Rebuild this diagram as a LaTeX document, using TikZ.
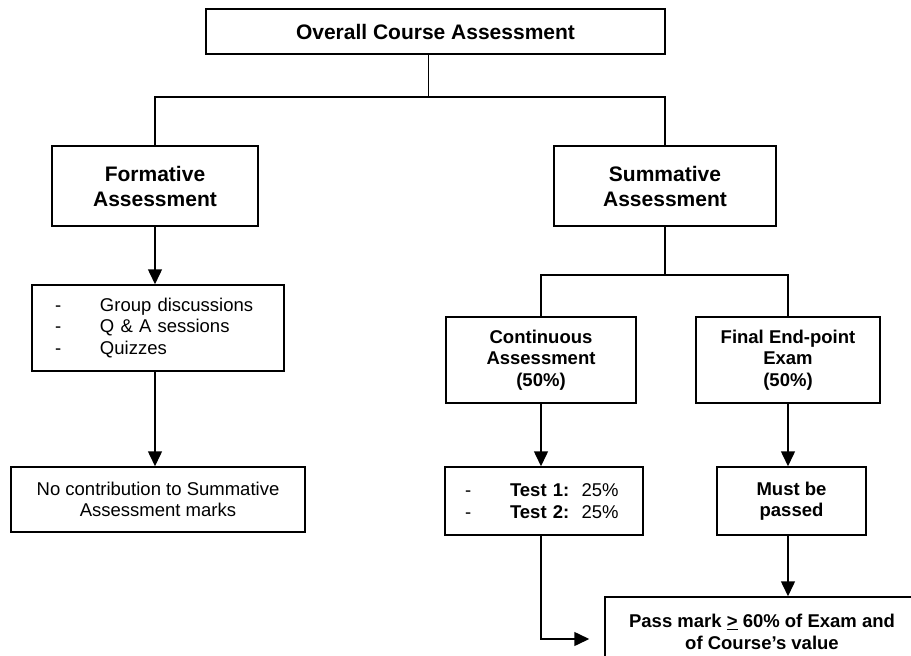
\documentclass[tikz,border=0pt]{standalone}
\usepackage{fontspec}
\setmainfont{Liberation Sans}
\usetikzlibrary{arrows.meta}
\usetikzlibrary{calc}

\tikzset{
  box/.style={draw, line width=1.5pt, align=center, inner sep=0pt},
  headbox/.style={box, font=\bfseries\fontsize{21}{25}\selectfont},
  smallbox/.style={box, font=\fontsize{18.5}{21.5}\selectfont},
  arr/.style={-{Triangle[width=14pt,length=15pt]}},
}

\begin{document}
\begin{tikzpicture}[x=1pt,y=-1pt,line width=1.5pt]
        \useasboundingbox (0,0) rectangle (911,656);
        \clip (0,0) rectangle (911,656);

        \node[headbox, minimum width=459pt, minimum height=45pt] (top) at (435.5,31.5) {Overall Course Assessment};
        \node[headbox, minimum width=206pt, minimum height=80pt] (form) at (155,186) {Formative\\Assessment};
        \node[headbox, minimum width=222pt, minimum height=80pt] (summ) at (665,186) {Summative\\Assessment};

        \node[smallbox, align=left, text width=206pt, inner xsep=23pt, minimum height=86pt] (list) at (158,328)
          {\makebox[45pt][l]{-}Group discussions\\\makebox[45pt][l]{-}Q \& A sessions\\\makebox[45pt][l]{-}Quizzes};
        \node[smallbox, minimum width=294pt, minimum height=65pt] (none) at (158,499.5) {No contribution to Summative\\Assessment marks};

        \node[smallbox, font=\bfseries\fontsize{18.5}{21.5}\selectfont, minimum width=190pt, minimum height=86pt] (cont) at (541,360) {Continuous\\Assessment\\(50\%)};
        \node[smallbox, font=\bfseries\fontsize{18.5}{21.5}\selectfont, minimum width=184pt, minimum height=86pt] (final) at (788,360) {Final End-point\\Exam\\(50\%)};
        \node[smallbox, align=left, text width=158pt, inner xsep=20pt, minimum height=68pt] (tests) at (544,501)
          {\makebox[45pt][l]{-}\textbf{Test 1:}\ \ 25\%\\\makebox[45pt][l]{-}\textbf{Test 2:}\ \ 25\%};
        \node[smallbox, font=\bfseries\fontsize{18.5}{21.5}\selectfont, minimum width=149pt, minimum height=68pt] (must) at (791.5,501) {Must be\\passed};
        \node[smallbox, font=\bfseries\fontsize{18.5}{21.5}\selectfont, minimum width=314pt, minimum height=70pt] (pass) at (762,632)
          {Pass mark \underline{>} 60\% of Exam and\\of Course’s value};

        \draw ([xshift=-7pt]top.south) -- ++(0,42) coordinate (j1) -| (form.north);
        \draw (j1) -| (summ.north);
        \draw (summ.south) -- ++(0,48) coordinate (j2) -| (cont.north);
        \draw (j2) -| (final.north);

        \path[arr] (form.south) edge (form.south |- list.north);
        \path[arr] (list.south -| form.south) edge (form.south |- none.north);
        \path[arr] (cont.south) edge (cont.south |- tests.north);
        \path[arr] (final.south) edge (final.south |- must.north);
        \path[arr] (must.south -| final.south) edge (final.south |- pass.north);
        \draw[arr, shorten >=15pt] (tests.south -| cont.south) |- ([yshift=-7pt]pass.west);
      \end{tikzpicture}
\end{document}
